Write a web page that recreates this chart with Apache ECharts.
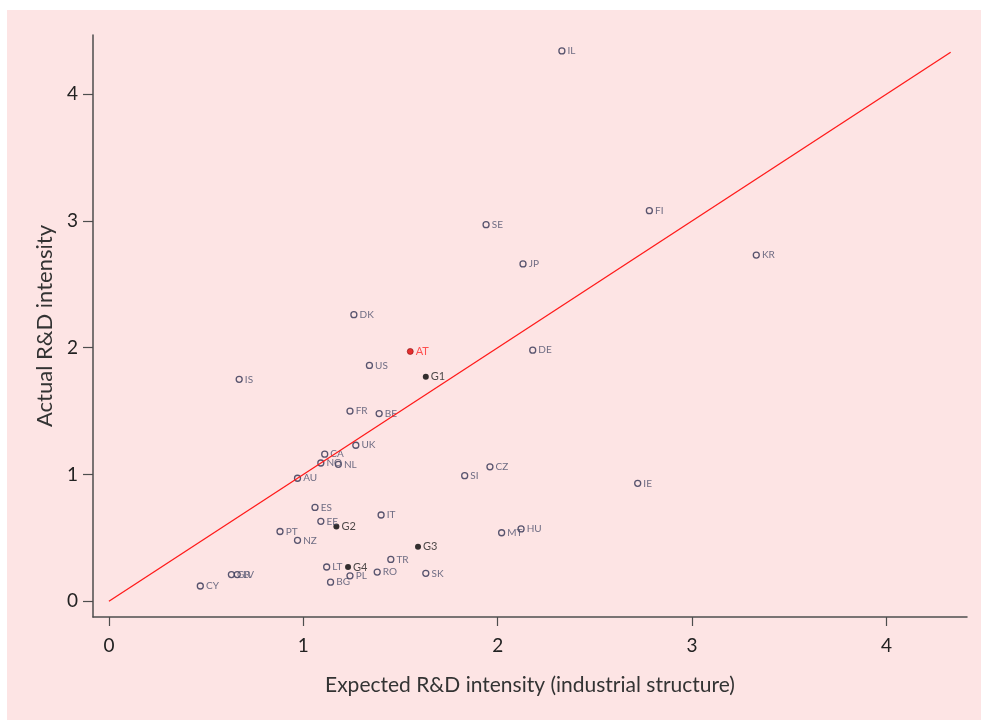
<!DOCTYPE html>
<html>
<head>
<meta charset="utf-8">
<script src="https://cdn.jsdelivr.net/npm/echarts@6/dist/echarts.min.js"></script>
<style>
  html, body { margin: 0; padding: 0; background: #ffffff; }
  #chart-box { position: absolute; left: 7px; top: 10px; width: 974px; height: 710px; }
</style>
</head>
<body>
<div id="chart-box"></div>
<script>
// country codes and values (expected vs actual R&D intensity)
const countries = ['IL', 'FI', 'SE', 'JP', 'KR', 'DK', 'US', 'FR', 'BE', 'DE', 'IS', 'UK', 'CA', 'NO', 'NL', 'AU', 'ES', 'EE', 'IT', 'PT', 'NZ', 'SI', 'CZ', 'IE', 'MT', 'HU', 'CY', 'GR', 'LV', 'LT', 'BG', 'PL', 'RO', 'TR', 'SK']
const expected = [2.33, 2.78, 1.94, 2.13, 3.33, 1.26, 1.34, 1.24, 1.39, 2.18, 0.67, 1.27, 1.11, 1.09, 1.18, 0.97, 1.06, 1.09, 1.40, 0.88, 0.97, 1.83, 1.96, 2.72, 2.02, 2.12, 0.47, 0.63, 0.66, 1.12, 1.14, 1.24, 1.38, 1.45, 1.63]
const actual = [4.34, 3.08, 2.97, 2.66, 2.73, 2.26, 1.86, 1.50, 1.48, 1.98, 1.75, 1.23, 1.16, 1.09, 1.08, 0.97, 0.74, 0.63, 0.68, 0.55, 0.48, 0.99, 1.06, 0.93, 0.54, 0.57, 0.12, 0.21, 0.21, 0.27, 0.15, 0.20, 0.23, 0.33, 0.22]

// country groups
const groups = ['G1', 'G2', 'G3', 'G4']
const groupExpected = [1.63, 1.17, 1.59, 1.23]
const groupActual = [1.77, 0.59, 0.43, 0.27]

// highlighted country
const focusName = ['AT']
const focusExpected = [1.55]
const focusActual = [1.97]

// 45 degree line end and axis ticks
const lineEnd = 4.33
const ticks = [0, 1, 2, 3, 4]

const font = 'Lato, "DejaVu Sans", sans-serif'

function toPoints (names, xs, ys) {
  return names.map((n, i) => ({ name: n, value: [xs[i], ys[i]] }))
}

let chart = echarts.init(document.getElementById('chart-box'))
let option = {
  backgroundColor: '#fde4e4',
  animation: false,
  grid: {
    left: 86,
    right: 14,
    top: 25,
    bottom: 103
  },
  xAxis: {
    type: 'value',
    min: -0.082,
    max: 4.414,
    name: 'Expected R&D intensity (industrial structure)',
    nameLocation: 'middle',
    nameGap: 58,
    nameTextStyle: { color: '#333', fontSize: 21, fontFamily: font },
    splitLine: { show: false },
    axisLine: { onZero: false, lineStyle: { color: '#4d4d4d', width: 1.5 } },
    axisTick: { customValues: ticks, length: 9, lineStyle: { color: '#4d4d4d', width: 1.2 } },
    axisLabel: { customValues: ticks, color: '#222', fontSize: 19, fontFamily: font, margin: 19 }
  },
  yAxis: {
    type: 'value',
    min: -0.1245,
    max: 4.466,
    name: 'Actual R&D intensity',
    nameLocation: 'middle',
    nameGap: 36,
    nameTextStyle: { color: '#333', fontSize: 22, fontFamily: font },
    splitLine: { show: false },
    axisLine: { onZero: false, lineStyle: { color: '#4d4d4d', width: 1.5 } },
    axisTick: { customValues: ticks, length: 10, lineStyle: { color: '#4d4d4d', width: 1.2 } },
    axisLabel: { customValues: ticks, color: '#222', fontSize: 19, fontFamily: font, margin: 15 }
  },
  series: [
    {
      name: 'diagonal',
      type: 'line',
      data: [[0, 0], [lineEnd, lineEnd]],
      symbol: 'none',
      lineStyle: { color: '#ff1a1a', width: 1.3 },
      silent: true
    },
    {
      name: 'countries',
      type: 'scatter',
      data: toPoints(countries, expected, actual),
      symbol: 'circle',
      symbolSize: 6,
      itemStyle: { color: '#fde4e4', borderColor: '#2e3050', borderWidth: 1.3 },
      label: {
        show: true,
        position: 'right',
        distance: 2,
        formatter: '{b}',
        color: '#4a4d6a',
        fontSize: 10,
        fontFamily: font
      }
    },
    {
      name: 'groups',
      type: 'scatter',
      data: toPoints(groups, groupExpected, groupActual),
      symbol: 'circle',
      symbolSize: 6,
      itemStyle: { color: '#000000' },
      label: {
        show: true,
        position: 'right',
        distance: 2,
        formatter: '{b}',
        color: '#222',
        fontSize: 11,
        fontFamily: font
      }
    },
    {
      name: 'focus',
      type: 'scatter',
      data: toPoints(focusName, focusExpected, focusActual),
      symbol: 'circle',
      symbolSize: 6,
      itemStyle: { color: '#e00000', borderColor: '#8a1010', borderWidth: 0.8 },
      label: {
        show: true,
        position: 'right',
        distance: 2,
        formatter: '{b}',
        color: '#ff2a2a',
        fontSize: 11,
        fontFamily: font
      }
    }
  ]
}
chart.setOption(option)
window.addEventListener('resize', () => chart.resize())
</script>
</body>
</html>
